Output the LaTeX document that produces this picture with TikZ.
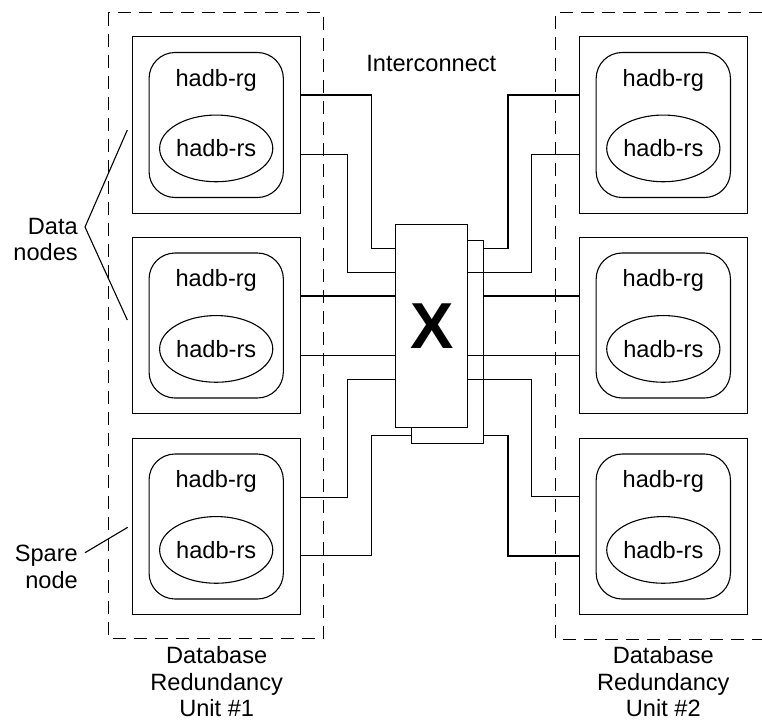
\documentclass[tikz,border=0pt]{standalone}
\usepackage{fontspec}
\setmainfont{Liberation Sans}
\usetikzlibrary{shapes.geometric}
\begin{document}
\begin{tikzpicture}[x=1pt,y=-1pt,
  every node/.style={font=\fontsize{23.6}{26.5}\selectfont},
  sq/.style={draw, line width=1.1pt, rectangle, minimum width=167.7pt, minimum height=176.3pt, inner sep=0pt},
  grp/.style={draw, line width=1.1pt, rectangle, rounded corners=26pt, minimum width=134.3pt, minimum height=145pt, inner sep=0pt},
  rs/.style={draw, line width=1.1pt, ellipse, minimum width=103.4pt, minimum height=66.7pt, inner sep=0pt},
  sw/.style={draw, line width=1.1pt, fill=white, rectangle, minimum width=72pt, minimum height=203.3pt, inner sep=0pt},
  dru/.style={line width=1.1pt, dash pattern=on 13pt off 8pt},
  wire/.style={line width=1.1pt},
  lbl/.style={inner sep=0pt},
]
\useasboundingbox (0,0) rectangle (762,721);

% redundancy units
\draw[dru] (108.3,12.7) rectangle (323.3,638.3);
\draw[dru] (762,12.7) -- (555.7,12.7) -- (555.7,639.3) -- (762,639.3);

% data nodes
\foreach \n/\cx/\cy in {L1/216.2/125, L2/216.2/325.5, L3/216.2/526.5, R1/663.3/125, R2/663.3/325.5, R3/663.3/526.5}{
  \node[sq] (\n) at (\cx,\cy) {};
  \node[grp] (\n-rg) at (\cx,\cy) {};
  \node[lbl, anchor=base] (\n-rgt) at (\cx,\cy-38.6) {hadb-rg};
  \node[rs] (\n-rs) at (\cx,\cy+23.4) {hadb-rs};
}

% interconnect switch
\node[sw] (B) at (447.7,341.8) {};
\node[sw] (F) at (431.7,325.7) {};
\node[font=\fontsize{65}{65}\selectfont\bfseries, inner sep=0pt] (X) at (F.center) {X};

% wires left
\draw[wire] (L1.east |- 0,95) -| (371.7,248.3) -- (F.west |- 0,248.3);
\draw[wire] (L1.east |- 0,154.3) -| (347.7,272.3) -- (F.west |- 0,272.3);
\draw[wire] (L2.east |- 0,296) -- (F.west |- 0,296);
\draw[wire] (L2.east |- 0,355.3) -- (F.west |- 0,355.3);
\draw[wire] (L3.east |- 0,497.3) -| (347.7,379.7) -- (F.west |- 0,379.7);
\draw[wire] (L3.east |- 0,555.7) -| (371.7,435.7) -- (B.west |- 0,435.7);
% wires right
\draw[wire] (B.east |- 0,248.3) -| (508,95) -- (R1.west |- 0,95);
\draw[wire] (F.east |- 0,272.3) -| (531.7,154.3) -- (R1.west |- 0,154.3);
\draw[wire] (B.east |- 0,296) -- (R2.west |- 0,296);
\draw[wire] (F.east |- 0,355.3) -- (R2.west |- 0,355.3);
\draw[wire] (F.east |- 0,379.7) -| (531.7,496.7) -- (R3.west |- 0,496.7);
\draw[wire] (B.east |- 0,435.7) -| (508,556) -- (R3.west |- 0,556);

% labels (base anchor = baseline of the last line)
\node[lbl, anchor=base] (ic) at (431.3,71.5) {Interconnect};
\node[lbl, align=center, anchor=base] (u1) at (216.7,716.7) {Database\\Redundancy\\Unit \#1};
\node[lbl, align=center, anchor=base] (u2) at (663.3,716.7) {Database\\Redundancy\\Unit \#2};
\node[lbl, align=right, anchor=base east] (dn) at (78,260.7) {Data\\nodes};
\node[lbl, align=right, anchor=base east] (sn) at (78,588.3) {Spare\\node};

% pointer lines
\coordinate (dnTip) at (85,227);
\coordinate (dnA) at (127.3,130);
\coordinate (dnB) at (127.3,320);
\draw[wire] (dnA) -- (dnTip) -- (dnB);
\coordinate (snA) at (85,552.7);
\coordinate (snB) at (127.7,527.3);
\draw[wire] (snA) -- (snB);
\end{tikzpicture}
\end{document}
